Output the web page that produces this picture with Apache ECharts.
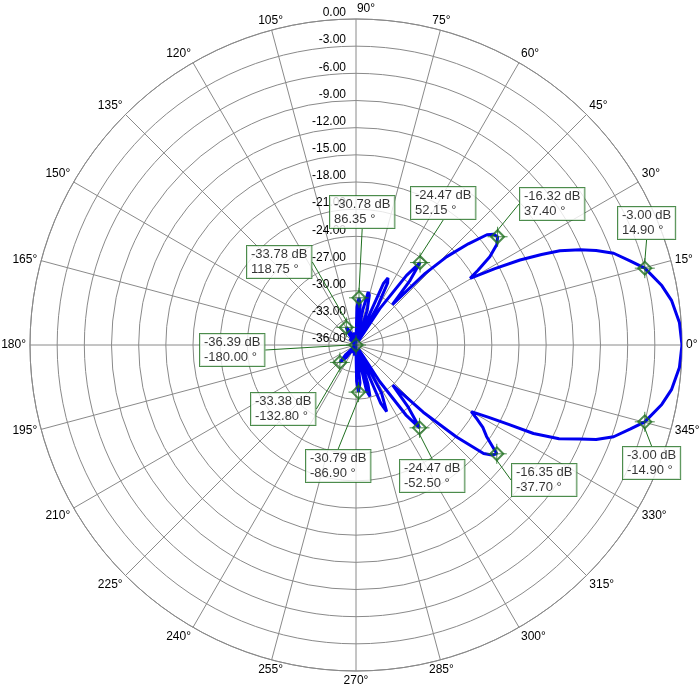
<!DOCTYPE html>
<html>
<head>
<meta charset="utf-8">
<title>Radiation pattern</title>
<script src="https://cdn.jsdelivr.net/npm/echarts@6/dist/echarts.min.js"></script>
<style>
  html, body { margin: 0; padding: 0; background: #fff; }
  #chart { width: 700px; height: 690px; }
</style>
</head>
<body>
<div id="chart"></div>
<script>
// pattern, upper half (angle in degrees, level in dB)
const upperAngles = [0, 4, 8, 11, 14.9, 17, 19.6, 21.5, 23, 24.8, 26, 27.4, 28.8, 30.3, 31.5,
  33.4, 35.5, 37.4, 38.8, 40.1, 42, 44.2, 46, 48, 50, 52.15, 54, 56.8, 59, 61,
  63, 64.5, 66, 69, 72, 75, 77, 79, 81, 84, 86.35, 88.5, 91, 96, 100,
  103, 107, 110, 114, 118.75, 123, 128, 135, 140, 150, 160, 170, 180]
const upperDb = [0, -0.2, -0.8, -1.6, -3.0, -4.3, -5.8, -7.5, -9.1, -11.2, -13.2, -15.6, -18.5, -21.4, -20.2,
  -18.3, -16.9, -16.32, -16.5, -17.1, -19.3, -22.0, -25.0, -30.0, -26.8, -24.47, -26.5, -31.2, -35.5, -31,
  -28.3, -27.8, -28.6, -35.5, -32, -30.3, -30.0, -32, -35.5, -31.5, -30.78, -31.8, -35.8, -35.2, -34.6,
  -34.9, -35.6, -36, -34.3, -33.78, -34.5, -36, -35, -36, -35.5, -36, -36, -36]

// pattern, lower half (negative angles)
const lowerAngles = [0, -4, -8, -11, -14.9, -17, -19.6, -21.5, -22.8, -24.8, -26.5, -27.5, -28.6, -30, -31.5,
  -33, -35, -37.7, -39, -40.4, -42.5, -45, -47.5, -50, -52.5, -54.5, -57, -59, -62, -65.3,
  -67, -70, -73, -74.8, -77, -80, -84, -86.9, -89, -92, -100, -106, -115, -122, -128,
  -132.8, -137, -142, -150, -160, -170, -180]
const lowerDb = [0, -0.2, -0.8, -1.6, -3.0, -4.3, -5.8, -7.5, -9.2, -11.3, -14.1, -17.0, -19.3, -21.3, -20.3,
  -19.3, -18.4, -16.35, -16.7, -17.5, -21.0, -25.5, -30.0, -27, -24.47, -26.5, -31.2, -35.5, -30, -27.9,
  -29, -35.5, -31.5, -30.1, -30.8, -35.5, -31.8, -30.79, -32, -35.8, -34.8, -36, -35, -36, -34.2,
  -33.38, -34.5, -36, -35.5, -36, -35.8, -36]

// markers
const markerAngles = [86.35, 52.15, 37.40, 14.90, 118.75, -180.00, -132.80, -86.90, -52.50, -37.70, -14.90]
const markerDb = [-30.78, -24.47, -16.32, -3.00, -33.78, -36.39, -33.38, -30.79, -24.47, -16.35, -3.00]

// radial scale
const dbMin = -36
const dbMax = 0
const dbStep = 3
const angleStep = 15

// callout box top-left corners (layout only)
const calloutPos = [
  [330, 196], [411, 187], [520, 188], [618, 207], [247, 246], [200, 334],
  [251, 393], [306, 450], [400, 460], [512, 464], [623, 447]
]

const center = [356, 345]
const radius = 326
const gridColor = '#8a8a8a'
const green = '#1f6f1f'
const font = 'Liberation Sans, Arial, sans-serif'

function toPlot(db, ang) {
  return [Math.max(db, dbMin), ang < 0 ? ang + 360 : ang]
}

const curve = []
upperAngles.forEach((a, i) => curve.push(toPlot(upperDb[i], a)))
for (let i = lowerAngles.length - 1; i >= 0; i--) {
  curve.push(toPlot(lowerDb[i], lowerAngles[i]))
}

const markers = markerAngles.map((a, i) => toPlot(markerDb[i], a))

const chart = echarts.init(document.getElementById('chart'))

chart.setOption({
  animation: false,
  backgroundColor: '#fff',
  polar: [
    { center: center, radius: radius },
    { center: center, radius: radius }
  ],
  angleAxis: [
    {
      polarIndex: 0,
      type: 'value',
      min: 0,
      max: 360,
      interval: angleStep,
      startAngle: 0,
      clockwise: false,
      axisLine: { lineStyle: { color: gridColor, width: 1 } },
      axisTick: { show: false },
      axisLabel: {
        margin: 4,
        color: '#000',
        fontSize: 12,
        fontFamily: font,
        formatter: v => {
          if (v === 360) return ''
          if (v === 90) return '{r|90°}'
          return v + '°'
        },
        rich: { r: { fontSize: 12, fontFamily: font, color: '#000', padding: [0, 0, 0, 20] } }
      },
      splitLine: { lineStyle: { color: gridColor, width: 1 } }
    },
    {
      polarIndex: 1,
      type: 'value',
      min: 0,
      max: 360,
      startAngle: 90,
      clockwise: false,
      show: false
    }
  ],
  radiusAxis: [
    {
      polarIndex: 0,
      type: 'value',
      min: dbMin,
      max: dbMax,
      interval: dbStep,
      axisLine: { show: false },
      axisTick: { show: false },
      axisLabel: { show: false },
      splitLine: { show: true, lineStyle: { color: gridColor, width: 1 } }
    },
    {
      polarIndex: 1,
      type: 'value',
      min: dbMin,
      max: dbMax,
      interval: dbStep,
      axisLine: { show: false },
      axisTick: { show: false },
      splitLine: { show: false },
      axisLabel: {
        margin: 10,
        color: '#000',
        fontSize: 12,
        fontFamily: font,
        verticalAlign: 'bottom',
        formatter: v => v.toFixed(2)
      }
    }
  ],
  series: [
    {
      name: 'pattern',
      type: 'line',
      coordinateSystem: 'polar',
      polarIndex: 0,
      data: curve,
      symbol: 'none',
      smooth: false,
      lineStyle: { color: '#0000f0', width: 3 },
      z: 3
    },
    {
      name: 'cross',
      type: 'scatter',
      coordinateSystem: 'polar',
      polarIndex: 0,
      data: markers,
      symbol: 'path://M-10,0L10,0M0,-10L0,10',
      symbolSize: 20,
      itemStyle: { color: 'transparent', borderColor: green, borderWidth: 1 },
      silent: true,
      z: 4
    },
    {
      name: 'markers',
      type: 'scatter',
      coordinateSystem: 'polar',
      polarIndex: 0,
      data: markers,
      symbol: 'path://M0,-7L7,0L0,7L-7,0Z',
      symbolSize: 13,
      itemStyle: { color: 'transparent', borderColor: green, borderWidth: 2 },
      z: 5,
      label: {
        show: true,
        formatter: p => markerDb[p.dataIndex].toFixed(2) + ' dB\n' + markerAngles[p.dataIndex].toFixed(2) + ' °',
        color: '#000',
        fontSize: 13,
        fontFamily: font,
        lineHeight: 15,
        align: 'left',
        verticalAlign: 'top',
        backgroundColor: '#fff',
        borderColor: green,
        borderWidth: 1,
        padding: [1, 4, 1, 4]
      },
      labelLine: {
        show: true,
        lineStyle: { color: green, width: 1 }
      },
      labelLayout: p => {
        const pos = calloutPos[p.dataIndex]
        return { x: pos[0], y: pos[1], align: 'left', verticalAlign: 'top' }
      }
    }
  ]
})
</script>
</body>
</html>
